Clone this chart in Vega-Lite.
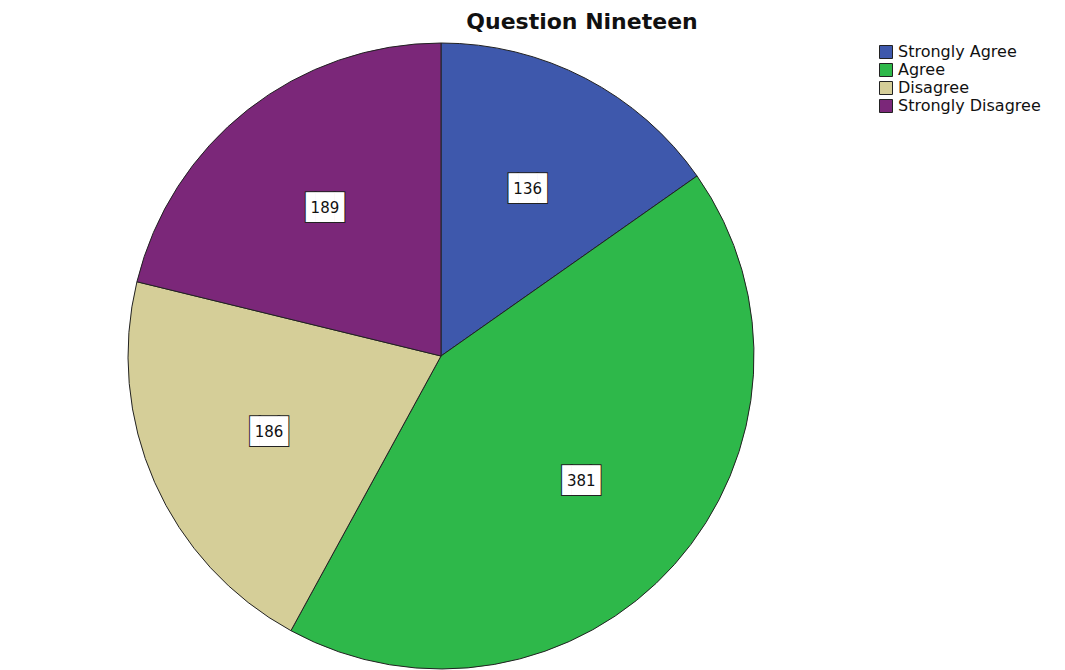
{
  "$schema": "https://vega.github.io/schema/vega-lite/v6.json",
  "autosize": "none",
  "width": 882,
  "height": 626,
  "padding": {"left": 0, "top": 43, "right": 183, "bottom": 1},
  "background": "white",
  "title": {"text": "Question Nineteen", "anchor": "middle", "dx": 141, "offset": 7, "font": "DejaVu Sans", "fontSize": 22, "fontWeight": "bold", "color": "#111111"},
  "data": {"values": [
    {"response": "Strongly Agree", "rank": 1, "count": 136},
    {"response": "Agree", "rank": 2, "count": 381},
    {"response": "Disagree", "rank": 3, "count": 186},
    {"response": "Strongly Disagree", "rank": 4, "count": 189}
  ]},
  "encoding": {
    "theta": {"field": "count", "type": "quantitative", "stack": true},
    "order": {"field": "rank", "type": "quantitative", "sort": "ascending"}
  },
  "layer": [
    {
      "mark": {"type": "arc", "stroke": "#222222", "strokeWidth": 1},
      "encoding": {
        "color": {"field": "response", "type": "nominal", "sort": ["Strongly Agree", "Agree", "Disagree", "Strongly Disagree"],
          "scale": {"domain": ["Strongly Agree", "Agree", "Disagree", "Strongly Disagree"], "range": ["#3E58AC", "#2EB84A", "#D5CE98", "#7B2779"]},
          "legend": {"title": null, "orient": "none", "legendX": 878, "legendY": 1, "symbolType": "square", "symbolSize": 169, "symbolStrokeColor": "#222222", "symbolStrokeWidth": 1, "labelFont": "DejaVu Sans", "labelFontSize": 16, "labelColor": "#111111", "rowPadding": 0, "labelOffset": 4, "padding": 0}
        }
      }
    },
    {
      "mark": {"type": "text", "radius": 188, "text": "▐█▌", "font": "DejaVu Sans", "fontSize": 25, "baseline": "middle", "fill": "white", "stroke": "#222222", "strokeWidth": 2}
    },
    {
      "mark": {"type": "text", "radius": 188, "text": "▐█▌", "font": "DejaVu Sans", "fontSize": 25, "baseline": "middle", "fill": "white"}
    },
    {
      "mark": {"type": "text", "radius": 188, "font": "DejaVu Sans", "fontSize": 15, "baseline": "middle", "color": "#111111"},
      "encoding": {"text": {"field": "count", "type": "quantitative"}}
    }
  ]
}
